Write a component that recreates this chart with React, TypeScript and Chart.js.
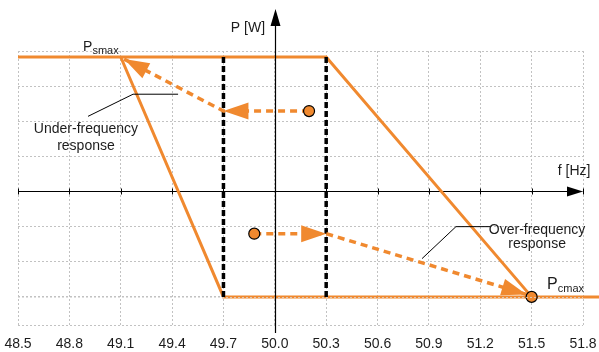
import React, { useEffect, useRef } from 'react';
import { Chart, registerables } from 'chart.js';

Chart.register(...registerables);

// ---- data ----
const xTicks = [48.5, 48.8, 49.1, 49.4, 49.7, 50.0, 50.3, 50.6, 50.9, 51.2, 51.5, 51.8];
const yTicks = [-3.8, -3, -2, -1, 0, 1, 2, 3, 4];

const PSMAX = 3.83;
const PCMAX = -3;

// upper boundary: Psmax plateau then over-frequency droop
const upperX = [48.5, 50.3, 51.5];
const upperY = [PSMAX, PSMAX, PCMAX];
// lower boundary: under-frequency droop then Pcmax plateau
const lowerX = [49.1, 49.7, 51.95];
const lowerY = [PSMAX, PCMAX, PCMAX];
// deadband limits
const deadbandX = [49.7, 50.3];

// under-frequency response path
const underX = [50.2, 49.7, 49.12];
const underY = [2.29, 2.29, 3.77];
// over-frequency response path
const overX = [49.88, 50.3, 51.47];
const overY = [-1.2, -1.2, -2.93];

// markers
const markerX = [50.2, 49.88, 51.5];
const markerY = [2.29, -1.2, PCMAX];

// leader lines for annotations
const underLeaderX = [49.435, 49.172, 48.909];
const underLeaderY = [2.77, 2.77, 2.14];
const overLeaderX = [50.86, 51.058, 51.257];
const overLeaderY = [-1.91, -1.0, -1.0];

const ORANGE = '#F0892F';
const FONT = '"Liberation Sans", Arial, Helvetica, sans-serif';
const TEXT = '#1c1c1c';
const GRID = '#c2c2c2';

const pts = (xs: number[], ys: number[]) => xs.map((x, i) => ({ x, y: ys[i] }));

function arrowHead(ctx: CanvasRenderingContext2D, x1: number, y1: number, x2: number, y2: number, len: number, hw: number) {
  const a = Math.atan2(y2 - y1, x2 - x1);
  const c = Math.cos(a), s = Math.sin(a);
  const bx = x2 - len * c, by = y2 - len * s;
  ctx.beginPath();
  ctx.moveTo(x2, y2);
  ctx.lineTo(bx + hw * s, by - hw * c);
  ctx.lineTo(bx - hw * s, by + hw * c);
  ctx.closePath();
  ctx.fill();
}

const overlay = {
  id: 'overlay',
  beforeDatasetsDraw(chart: any) {
    const { ctx, chartArea, scales } = chart;
    const xs = scales.x, ys = scales.y;
    const y0 = ys.getPixelForValue(0);
    ctx.save();
    ctx.strokeStyle = '#000';
    ctx.fillStyle = '#000';
    ctx.lineWidth = 1.2;
    ctx.beginPath();
    ctx.moveTo(chartArea.left, y0);
    ctx.lineTo(chartArea.right - 10, y0);
    ctx.stroke();
    ctx.lineWidth = 1;
    xTicks.forEach((v) => {
      const px = Math.round(xs.getPixelForValue(v)) + 0.5;
      ctx.beginPath();
      ctx.moveTo(px, y0 - 3);
      ctx.lineTo(px, y0 + 3);
      ctx.stroke();
    });
    ctx.beginPath();
    ctx.moveTo(chartArea.right, y0);
    ctx.lineTo(chartArea.right - 16, y0 - 5);
    ctx.lineTo(chartArea.right - 16, y0 + 5);
    ctx.closePath();
    ctx.fill();
    ctx.restore();
  },
  afterDatasetDraw(chart: any, args: any) {
    const ds = chart.data.datasets[args.index];
    if (!ds.arrow) return;
    const p = args.meta.data;
    const ctx = chart.ctx;
    ctx.save();
    ctx.fillStyle = ORANGE;
    for (let i = 1; i < p.length; i++) {
      arrowHead(ctx, p[i - 1].x, p[i - 1].y, p[i].x, p[i].y, 25, 8.5);
    }
    ctx.restore();
  },
  afterDatasetsDraw(chart: any) {
    const { ctx, chartArea, scales } = chart;
    const xs = scales.x, ys = scales.y;
    const x0 = Math.round(xs.getPixelForValue(50.0)) + 0.5;
    ctx.save();
    // gridline showing through the Pcmax plateau
    const yc = Math.round(ys.getPixelForValue(PCMAX)) + 0.5;
    ctx.strokeStyle = 'rgba(215,215,215,0.8)';
    ctx.lineWidth = 1;
    ctx.setLineDash([2, 2]);
    ctx.beginPath();
    ctx.moveTo(chartArea.left, yc);
    ctx.lineTo(chartArea.right, yc);
    ctx.stroke();
    ctx.setLineDash([]);

    ctx.strokeStyle = '#000';
    ctx.fillStyle = '#000';
    ctx.lineWidth = 1.2;
    ctx.beginPath();
    ctx.moveTo(x0, chartArea.bottom + 8);
    ctx.lineTo(x0, chartArea.top - 30);
    ctx.stroke();
    ctx.beginPath();
    ctx.moveTo(x0, chartArea.top - 42);
    ctx.lineTo(x0 - 5, chartArea.top - 25);
    ctx.lineTo(x0 + 5, chartArea.top - 25);
    ctx.closePath();
    ctx.fill();

    ctx.fillStyle = TEXT;
    ctx.textBaseline = 'middle';
    ctx.textAlign = 'center';
    ctx.font = `14px ${FONT}`;
    const T = (s: string, vx: number, vy: number) => ctx.fillText(s, xs.getPixelForValue(vx), ys.getPixelForValue(vy));
    T('P [W]', 49.843, 4.66);
    T('f [Hz]', 51.748, 0.57);
    T('Under-frequency', 48.897, 1.77);
    T('response', 48.897, 1.29);
    T('Over-frequency', 51.532, -1.09);
    T('response', 51.532, -1.51);

    ctx.textAlign = 'left';
    ctx.textBaseline = 'alphabetic';
    const sub = (main: string, s: string, vx: number, vy: number, big: number, small: number) => {
      const px = xs.getPixelForValue(vx);
      const py = ys.getPixelForValue(vy);
      ctx.font = `${big}px ${FONT}`;
      ctx.fillText(main, px, py);
      const w = ctx.measureText(main).width;
      ctx.font = `${small}px ${FONT}`;
      ctx.fillText(s, px + w, py + 3);
    };
    sub('P', 'smax', 48.88, 4.0, 14, 11);
    sub('P', 'cmax', 51.59, -2.77, 16, 11);
    ctx.restore();
  },
};

export default function App() {
  const ref = useRef<HTMLCanvasElement>(null);
  useEffect(() => {
    const gridOpts = { color: GRID, lineWidth: 1, drawTicks: false };
    const chart = new Chart(ref.current as HTMLCanvasElement, {
      type: 'line',
      data: {
        datasets: [
          {
            data: pts(upperX, upperY), borderColor: ORANGE, borderWidth: 3, pointRadius: 0, order: 6,
            borderJoinStyle: 'miter', clip: false,
          } as any,
          {
            data: pts(lowerX, lowerY), borderColor: ORANGE, borderWidth: 3, pointRadius: 0, order: 6,
            borderJoinStyle: 'miter', clip: false,
          } as any,
          {
            data: pts([deadbandX[0], deadbandX[0]], [PSMAX, PCMAX]), borderColor: '#000', borderWidth: 3.5,
            borderDash: [6, 3], pointRadius: 0, order: 5,
          },
          {
            data: pts([deadbandX[1], deadbandX[1]], [PSMAX, PCMAX]), borderColor: '#000', borderWidth: 3.5,
            borderDash: [6, 3], pointRadius: 0, order: 5,
          },
          {
            data: pts(underX, underY), borderColor: ORANGE, borderWidth: 3.5, borderDash: [7, 5],
            pointRadius: 0, order: 4, arrow: true,
          } as any,
          {
            data: pts(overX, overY), borderColor: ORANGE, borderWidth: 3.5, borderDash: [7, 5],
            pointRadius: 0, order: 4, arrow: true,
          } as any,
          {
            data: pts(underLeaderX, underLeaderY), borderColor: '#000', borderWidth: 1, pointRadius: 0, order: 3,
          },
          {
            data: pts(overLeaderX, overLeaderY), borderColor: '#000', borderWidth: 1, pointRadius: 0, order: 3,
          },
          {
            data: pts(markerX, markerY), showLine: false, pointRadius: 5.5, pointBackgroundColor: ORANGE,
            pointBorderColor: '#000', pointBorderWidth: 1.2, order: 1,
          },
        ],
      },
      options: {
        animation: false,
        responsive: false,
        maintainAspectRatio: false,
        devicePixelRatio: 1,
        layout: { padding: { left: 18, right: 16, top: 51, bottom: 0 } },
        plugins: { legend: { display: false }, tooltip: { enabled: false } },
        scales: {
          x: {
            type: 'linear', min: 48.5, max: 51.8,
            afterBuildTicks: (s: any) => { s.ticks = xTicks.map((v) => ({ value: v })); },
            afterFit: (s: any) => { s.height = 27; s.paddingLeft = 0; s.paddingRight = 0; },
            ticks: {
              callback: (v: any) => Number(v).toFixed(1), font: { family: FONT, size: 14 }, color: TEXT,
              padding: 11, maxRotation: 0, autoSkip: false,
            },
            grid: gridOpts,
            border: { display: false, dash: [2, 2] },
          },
          y: {
            type: 'linear', min: -3.8, max: 4,
            afterBuildTicks: (s: any) => { s.ticks = yTicks.map((v) => ({ value: v })); },
            afterFit: (s: any) => { s.width = 0; s.paddingTop = 0; s.paddingBottom = 0; },
            ticks: { display: false },
            grid: gridOpts,
            border: { display: false, dash: [2, 2] },
          },
        },
      } as any,
      plugins: [overlay],
    });
    return () => chart.destroy();
  }, []);
  return (
    <div style={{ position: 'absolute', left: 0, top: 0, width: 599, height: 352, background: '#fff' }}>
      <canvas ref={ref} width={599} height={352} style={{ display: 'block', width: 599, height: 352 }} />
    </div>
  );
}
